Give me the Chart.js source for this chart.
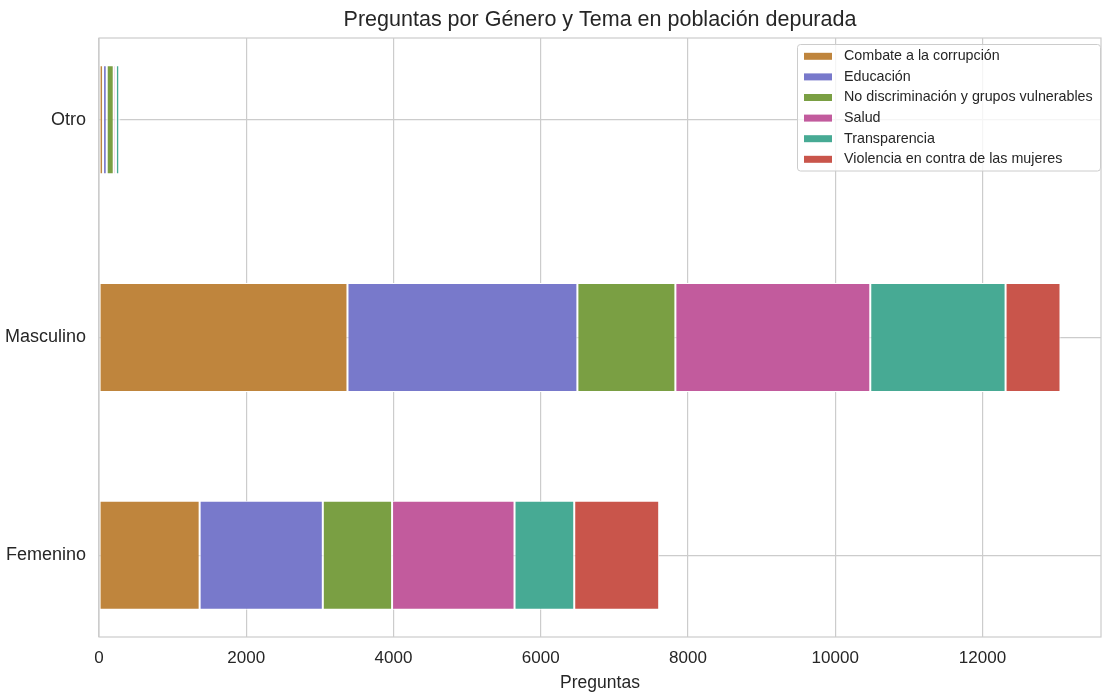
<!DOCTYPE html>
<html>
<head>
<meta charset="utf-8">
<script src="https://cdn.jsdelivr.net/npm/chart.js@4.4.1/dist/chart.umd.min.js"></script>
<style>
  html, body { margin: 0; padding: 0; background: #ffffff; }
  #wrap { width: 1102px; height: 696px; position: relative; }
</style>
</head>
<body>
<div id="wrap"><canvas id="c" width="1102" height="696"></canvas></div>
<script>
// ---- data ----
const categories = ['Femenino', 'Masculino', 'Otro'];
const seriesNames = [
  'Combate a la corrupción',
  'Educación',
  'No discriminación y grupos vulnerables',
  'Salud',
  'Transparencia',
  'Violencia en contra de las mujeres'
];
const combate       = [1367, 3375, 55];
const educacion     = [1673, 3123, 50];
const noDiscrim     = [941, 1331, 95];
const salud         = [1663, 2647, 30];
const transparencia = [811, 1838, 45];
const violencia     = [1154, 746, 15];
const xTicks = [0, 2000, 4000, 6000, 8000, 10000, 12000];
const chartTitle = 'Preguntas por Género y Tema en población depurada';
const xTitle = 'Preguntas';

const seriesValues = [combate, educacion, noDiscrim, salud, transparencia, violencia];
const colors = ['#bf853d', '#7879cb', '#7a9f43', '#c25b9d', '#47aa94', '#c9554b'];

const FONT = '"Liberation Sans", Arial, sans-serif';
const TXT = '#262626';
const GRID = '#cccccc';

const datasets = seriesNames.map((name, k) => ({
  label: name,
  data: seriesValues[k].map((v, i) => ({ x: v, y: i })),
  backgroundColor: colors[k],
  borderColor: '#ffffff',
  borderWidth: 1,
  borderSkipped: false,
  categoryPercentage: 1.0,
  barPercentage: 0.5
}));

const framePlugin = {
  id: 'frame',
  afterDatasetsDraw(chart) {
    const { ctx, chartArea: a } = chart;
    ctx.save();
    ctx.strokeStyle = GRID;
    ctx.lineWidth = 1.2;
    ctx.strokeRect(a.left, a.top, a.right - a.left, a.bottom - a.top);
    ctx.restore();
  },
  afterDraw(chart) {
    const { ctx, chartArea: a } = chart;
    ctx.save();
    // title
    ctx.fillStyle = TXT;
    ctx.font = '21.5px ' + FONT;
    ctx.textAlign = 'center';
    ctx.textBaseline = 'middle';
    ctx.fillText(chartTitle, (a.left + a.right) / 2, 20);
    // legend
    const bx = 797.5, by = 44.5, bw = 303, bh = 126.5;
    ctx.beginPath();
    ctx.roundRect(bx, by, bw, bh, 3);
    ctx.fillStyle = 'rgba(255,255,255,0.8)';
    ctx.fill();
    ctx.strokeStyle = GRID;
    ctx.lineWidth = 1;
    ctx.stroke();
    ctx.font = '14.3px ' + FONT;
    ctx.textAlign = 'left';
    chart.data.datasets.forEach((ds, i) => {
      const cy = 56.3 + i * 20.6;
      ctx.fillStyle = ds.backgroundColor;
      ctx.fillRect(804, cy - 3.5, 28, 7);
      ctx.fillStyle = TXT;
      ctx.fillText(ds.label, 844, cy);
    });
    ctx.restore();
  }
};

new Chart(document.getElementById('c'), {
  type: 'bar',
  data: { datasets },
  options: {
    indexAxis: 'y',
    responsive: false,
    animation: false,
    layout: { padding: { top: 38, right: 1, left: 0, bottom: 0 } },
    plugins: {
      legend: { display: false },
      title: { display: false },
      tooltip: { enabled: false }
    },
    scales: {
      x: {
        type: 'linear',
        stacked: true,
        min: 0,
        max: 13610,
        offset: false,
        afterBuildTicks: (s) => { s.ticks = xTicks.map(v => ({ value: v })); },
        afterFit: (s) => { s.height = 59; },
        grid: { color: GRID, lineWidth: 1.2, drawTicks: false, offset: false },
        border: { display: false },
        ticks: {
          color: TXT, font: { family: FONT, size: 17 }, padding: 11,
          callback: (v) => String(v)
        },
        title: {
          display: true, text: xTitle, color: TXT,
          font: { family: FONT, size: 17.5 }, padding: { top: 0, bottom: 2 }
        }
      },
      y: {
        type: 'linear',
        stacked: true,
        min: -0.375,
        max: 2.375,
        offset: false,
        afterBuildTicks: (s) => { s.ticks = categories.map((c, i) => ({ value: i })); },
        afterFit: (s) => { s.width = 99; },
        grid: { color: GRID, lineWidth: 1.2, drawTicks: false, offset: false },
        border: { display: false },
        ticks: {
          color: TXT, font: { family: FONT, size: 18 }, padding: 13,
          callback: (v) => categories[v] !== undefined ? categories[v] : ''
        }
      }
    }
  },
  plugins: [framePlugin]
});
</script>
</body>
</html>
